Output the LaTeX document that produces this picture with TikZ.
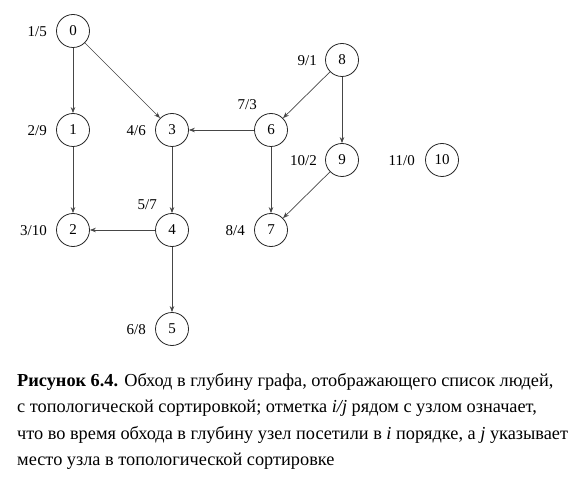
\documentclass[tikz,border=0pt]{standalone}
\usepackage{fontspec}
\setmainfont{Liberation Serif}
\usetikzlibrary{arrows.meta}
\definecolor{edgegray}{RGB}{70,70,70}
\begin{document}
\begin{tikzpicture}[x=1pt,y=-1pt,
  vert/.style={circle,draw=black!85,line width=0.8pt,minimum size=33pt,inner sep=0pt,font=\fontsize{15}{17}\selectfont},
  lab/.style={anchor=east,inner sep=0pt,font=\fontsize{15}{17}\selectfont},
  edge/.style={draw=edgegray,line width=0.7pt,-{Stealth[length=6pt,width=4.5pt]}},
  captext/.style={anchor=base west,inner sep=0pt,font=\fontsize{18.3}{21}\selectfont}]
\useasboundingbox (0,0) rectangle (583,478);
\node[vert] (n0) at (73,31) {0};
\node[vert] (n1) at (73,130) {1};
\node[vert] (n2) at (73,230) {2};
\node[vert] (n3) at (172,130) {3};
\node[vert] (n4) at (172,230) {4};
\node[vert] (n5) at (172,329) {5};
\node[vert] (n6) at (271,130) {6};
\node[vert] (n7) at (271,230) {7};
\node[vert] (n8) at (342,60) {8};
\node[vert] (n9) at (342,160) {9};
\node[vert] (n10) at (442,160) {10};
\node[lab] (l0) at (47,32) {1/5};
\node[lab] (l1) at (47,131) {2/9};
\node[lab] (l2) at (47,231) {3/10};
\node[lab] (l3) at (146,131) {4/6};
\node[lab] (l4) at (157,205) {5/7};
\node[lab] (l5) at (146,330) {6/8};
\node[lab] (l6) at (257,105) {7/3};
\node[lab] (l7) at (245,231) {8/4};
\node[lab] (l8) at (317,61) {9/1};
\node[lab] (l9) at (317,161) {10/2};
\node[lab] (l10) at (415,161) {11/0};
\draw[edge] (n0) -- (n1);
\draw[edge] (n0) -- (n3);
\draw[edge] (n1) -- (n2);
\draw[edge] (n3) -- (n4);
\draw[edge] (n4) -- (n2);
\draw[edge] (n4) -- (n5);
\draw[edge] (n6) -- (n3);
\draw[edge] (n6) -- (n7);
\draw[edge] (n8) -- (n6);
\draw[edge] (n8) -- (n9);
\draw[edge] (n9) -- (n7);
\node[captext] (c1) at (17,386) {\textbf{Рисунок 6.4.} Обход в глубину графа, отображающего список людей,};
\node[captext] (c2) at (17,412.5) {с топологической сортировкой; отметка \textit{i/j} рядом с узлом означает,};
\node[captext] (c3) at (17,439) {что во время обхода в глубину узел посетили в \textit{i} порядке, а \textit{j} указывает};
\node[captext] (c4) at (17,465.5) {место узла в топологической сортировке};
\end{tikzpicture}
\end{document}
